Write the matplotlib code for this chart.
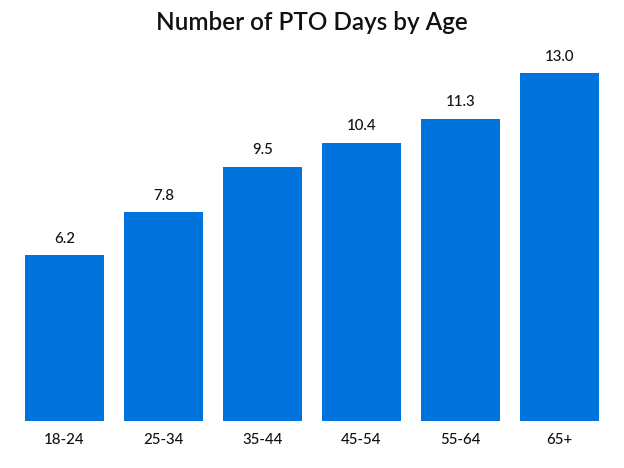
import matplotlib
matplotlib.use('Agg')
import matplotlib.pyplot as plt

# Data
age_groups = ['18-24', '25-34', '35-44', '45-54', '55-64', '65+']
pto_days = [6.2, 7.8, 9.5, 10.4, 11.3, 13.0]

plt.rcParams['font.family'] = ['Lato', 'DejaVu Sans']

fig = plt.figure(figsize=(6.24, 4.68), dpi=100)
ax = fig.add_axes([25 / 624, 1 - 421 / 468, (599 - 25) / 624, (421 - 73) / 468])

x = range(len(age_groups))
bars = ax.bar(x, pto_days, width=0.8, color='#0073DC')

# Value labels above bars
for i, v in enumerate(pto_days):
    ax.text(i, v + 0.35, f'{v:.1f}', ha='center', va='bottom', fontsize=10.8,
            color='#111111', fontweight='medium')

ax.set_xlim(-0.4, len(age_groups) - 0.6)
ax.set_ylim(0, 13.0)
ax.set_xticks(list(x))
ax.set_xticklabels(age_groups, fontsize=10.8, color='#111111', fontweight='medium')
ax.tick_params(axis='x', length=0, pad=9)
ax.set_yticks([])
for s in ax.spines.values():
    s.set_visible(False)

fig.text(0.5, 1 - 22 / 468, 'Number of PTO Days by Age', ha='center', va='center',
         fontsize=17.5, color='#111111', fontweight='semibold')

fig.savefig('out.png', dpi=100)
